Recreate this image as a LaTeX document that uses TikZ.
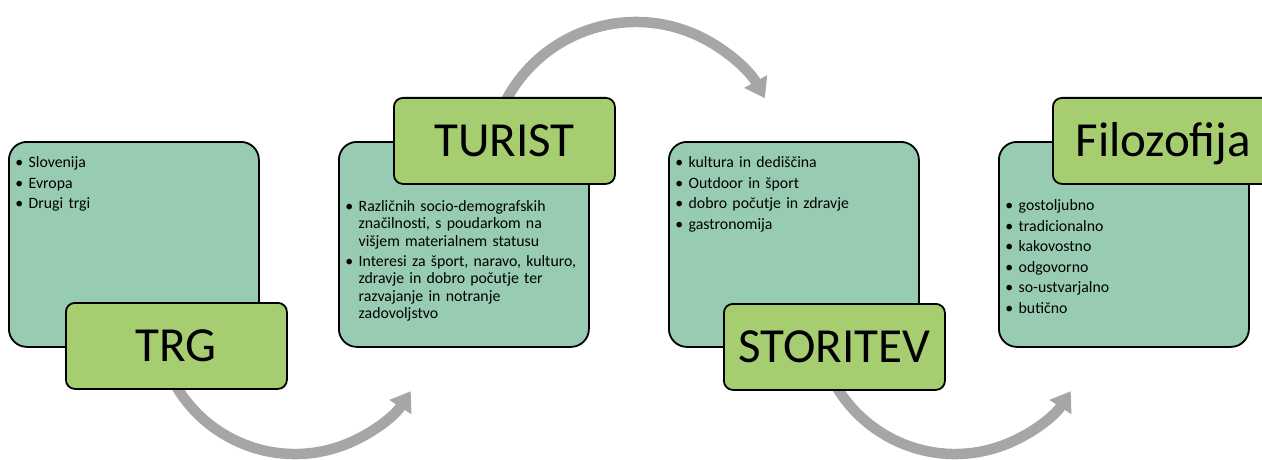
\documentclass[tikz,border=0pt]{standalone}
\usepackage{fontspec}
\setmainfont{Carlito}
\usetikzlibrary{arrows.meta}
\definecolor{tealc}{HTML}{97CCB3}
\definecolor{greenc}{HTML}{A7CD71}
\definecolor{arrowc}{HTML}{A6A6A6}
\newcommand\bitem[1]{\par\noindent\hangindent=12.5pt\hangafter=1\hbox to 12.5pt{\hbox to 6pt{\hss\textbullet\hss}\hss}\strut#1\par}
\newcommand\bsep{\vspace{3.2pt}}
\begin{document}
\begin{tikzpicture}[x=1pt,y=1pt,
  panel/.style={draw=black, line width=1.8pt, fill=tealc, rounded corners=18pt,
    minimum width=250pt, minimum height=205pt, anchor=north west, inner sep=0pt},
  tag/.style={draw=black, line width=1.8pt, fill=greenc, rounded corners=9pt,
    minimum width=221pt, minimum height=86pt, anchor=north west, inner sep=0pt,
    text height=32pt, text depth=0pt, font=\fontsize{49}{55}\selectfont},
  body/.style={anchor=north west, inner sep=0pt, text width=238pt, align=left,
    font=\fontsize{15.8}{17.3}\selectfont},
  flow/.style={draw=arrowc, line width=10.5pt, -{Triangle[width=25pt,length=19pt]}}]
\useasboundingbox (0,0) rectangle (1262,-460);
\clip (0,0) rectangle (1262,-460);
% connectors (behind boxes)
\coordinate (c1) at (295,-316);
\coordinate (c2) at (636,-169);
\coordinate (c3) at (955,-316);
\draw[flow] (c1) ++(200:138) arc[start angle=200, end angle=327, radius=138];
\draw[flow] (c2) ++(155:147) arc[start angle=155, end angle=28.8, radius=147];
\draw[flow] (c3) ++(200:138) arc[start angle=200, end angle=327, radius=138];
% group 1
\node[panel] (b1) at (8,-141) {};
\node[tag] (t1) at (65,-302) {TRG};
\node[body] (x1) at (16,-150) {\bitem{Slovenija}\bsep\bitem{Evropa}\bsep\bitem{Drugi trgi}};
% group 2
\node[panel] (b2) at (338,-141) {};
\node[tag] (t2) at (393,-97) {TURIST};
\node[body] (x2) at (346,-194) {\bitem{Različnih socio-demografskih\newline značilnosti, s poudarkom na\newline višjem materialnem statusu}\bsep\bitem{Interesi za šport, naravo, kulturo,\newline zdravje in dobro počutje ter\newline razvajanje in notranje\newline zadovoljstvo}};
% group 3
\node[panel] (b3) at (668,-141) {};
\node[tag] (t3) at (723,-303) {STORITEV};
\node[body] (x3) at (676,-150) {\bitem{kultura in dediščina}\bsep\bitem{Outdoor in šport}\bsep\bitem{dobro počutje in zdravje}\bsep\bitem{gastronomija}};
% group 4
\node[panel] (b4) at (998,-141) {};
\node[tag] (t4) at (1052,-97) {Filozofija};
\node[body] (x4) at (1006,-193) {\bitem{gostoljubno}\bsep\bitem{tradicionalno}\bsep\bitem{kakovostno}\bsep\bitem{odgovorno}\bsep\bitem{so-ustvarjalno}\bsep\bitem{butično}};
\end{tikzpicture}
\end{document}
